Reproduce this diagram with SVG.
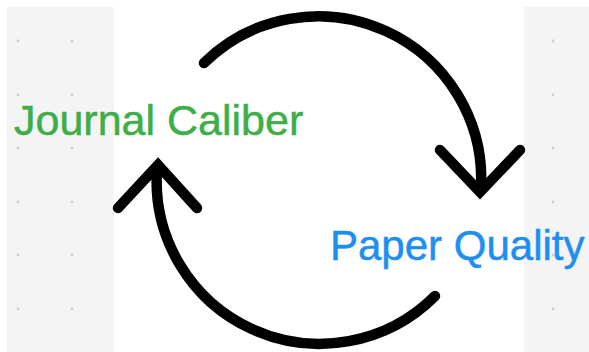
<svg xmlns="http://www.w3.org/2000/svg" width="589" height="352" viewBox="0 0 589 352">
<defs>
<style>
.panel{fill:#f4f4f4}
.dot{fill:#cfcfcf}
.arc{fill:none;stroke:#000;stroke-width:10.5;stroke-linecap:round;stroke-linejoin:miter}
.lbl{font-family:"Liberation Sans",Arial,sans-serif;stroke-width:0.5}
</style>
</defs>
<rect width="589" height="352" fill="#fff"/>
<g id="background">
<rect class="panel" x="7" y="7" width="107" height="345"/>
<rect class="panel" x="524" y="7" width="65" height="345"/>
<g class="dot">
<circle cx="18" cy="41" r="1.4"/><circle cx="72" cy="41" r="1.4"/>
<circle cx="18" cy="95" r="1.4"/><circle cx="72" cy="95" r="1.4"/>
<circle cx="18" cy="148" r="1.4"/><circle cx="72" cy="148" r="1.4"/>
<circle cx="18" cy="202" r="1.4"/><circle cx="72" cy="202" r="1.4"/>
<circle cx="18" cy="255" r="1.4"/><circle cx="72" cy="255" r="1.4"/>
<circle cx="18" cy="309" r="1.4"/><circle cx="72" cy="309" r="1.4"/>
<circle cx="553" cy="41" r="1.4"/><circle cx="553" cy="95" r="1.4"/>
<circle cx="553" cy="148" r="1.4"/><circle cx="553" cy="202" r="1.4"/>
<circle cx="553" cy="255" r="1.4"/><circle cx="553" cy="309" r="1.4"/>
</g>
</g>
<g id="connectors">
<path class="arc" d="M204 63 A163 163 0 0 1 481 188"/>
<path class="arc" d="M440 150 L480 192 L520 150"/>
<path class="arc" d="M435 296 A163 163 0 0 1 157 170"/>
<path class="arc" d="M118 208 L158 165 L197 208"/>
</g>
<g id="journal-caliber">
<text class="lbl" x="14" y="135" font-size="43" fill="#3dae48" stroke="#3dae48">Journal Caliber</text>
</g>
<g id="paper-quality">
<text class="lbl" x="330" y="260" font-size="42" fill="#1e8ff2" stroke="#1e8ff2">Paper Quality</text>
</g>
</svg>
